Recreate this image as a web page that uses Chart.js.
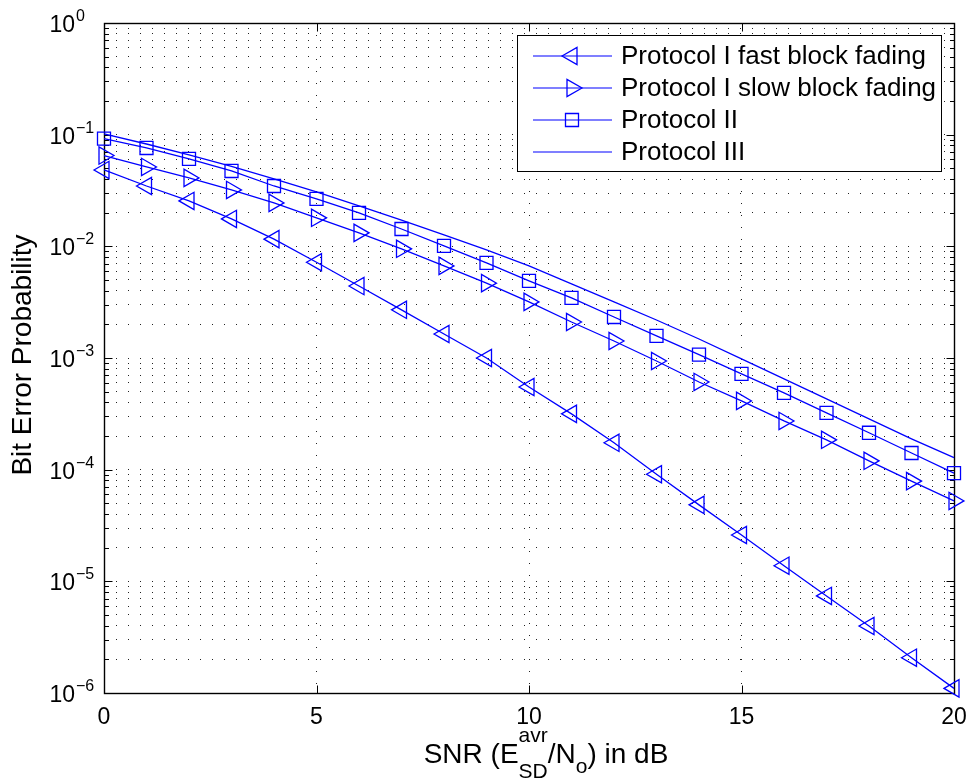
<!DOCTYPE html>
<html>
<head>
<meta charset="utf-8">
<script src="https://cdn.jsdelivr.net/npm/chart.js@4.4.0/dist/chart.umd.min.js"></script>
<style>
  html, body { margin: 0; padding: 0; background: #fff; }
  #wrap { width: 973px; height: 782px; }
</style>
</head>
<body>
<div id="wrap"><canvas id="berChart" width="973" height="782"></canvas></div>
<script>
// SNR in dB
const snr = [0, 1, 2, 3, 4, 5, 6, 7, 8, 9, 10, 11, 12, 13, 14, 15, 16, 17, 18, 19, 20];

// bit error probability
const fastFading = [0.0483, 0.0347, 0.0255, 0.0176, 0.0116, 0.0072, 0.00441, 0.0027, 0.00164, 0.001,
  0.00055, 0.000316, 0.000174, 9.1e-5, 4.84e-5, 2.6e-5, 1.38e-5, 7.4e-6, 3.98e-6, 2.07e-6, 1.1e-6];
const slowFading = [0.065, 0.0514, 0.041, 0.032, 0.0245, 0.018, 0.0132, 0.0095, 0.00668, 0.00468,
  0.00318, 0.0021, 0.00142, 0.00094, 0.00061, 0.000413, 0.000273, 0.000185, 0.00012, 7.9e-5, 5.25e-5];
const protocol2 = [0.092, 0.076, 0.0606, 0.0473, 0.0347, 0.0266, 0.0199, 0.0143, 0.0101, 0.0071,
  0.0049, 0.00345, 0.00233, 0.00158, 0.00107, 0.00072, 0.000487, 0.000323, 0.000214, 0.000141, 9.3e-5];
const protocol3 = [0.1015, 0.0825, 0.0658, 0.0519, 0.0401, 0.0307, 0.023, 0.0172, 0.01265, 0.00929,
  0.00668, 0.00461, 0.00318, 0.00219, 0.00148, 0.000982, 0.00065, 0.00043, 0.000285, 0.000189, 0.000128];

const seriesLabels = ['Protocol I fast block fading', 'Protocol I slow block fading', 'Protocol II', 'Protocol III'];

// tick labels
const xTicks = [0, 5, 10, 15, 20];
const yExponents = [0, -1, -2, -3, -4, -5, -6];

const BLUE = '#0000ff';
const FONT = '"Liberation Sans", Arial, Helvetica, sans-serif';

function pts(ys) {
  return snr.map((x, i) => ({ x: x, y: ys[i] }));
}

// major + minor log ticks (1..9 x 10^e)
function logTicks() {
  const t = [];
  for (let e = -6; e < 0; e++) {
    for (let m = 1; m < 10; m++) t.push({ value: m * Math.pow(10, e), major: m === 1 });
  }
  t.push({ value: 1, major: true });
  return t;
}

// draws the box, inward ticks, superscript labels, axis titles and legend, MATLAB style
const matlabAxes = {
  id: 'matlabAxes',
  beforeDatasetsDraw(chart) {
    const { ctx, chartArea: a, scales: { x, y } } = chart;
    const L = Math.round(a.left) + 0.5, R = Math.round(a.right) + 0.5;
    const T = Math.round(a.top) + 0.5, B = Math.round(a.bottom) + 0.5;
    ctx.save();
    ctx.strokeStyle = '#000';
    ctx.lineWidth = 1;
    ctx.beginPath();
    y.ticks.forEach(t => {
      const py = Math.round(y.getPixelForValue(t.value)) + 0.5;
      const len = t.major ? 8 : 4.5;
      ctx.moveTo(L, py); ctx.lineTo(L + len, py);
      ctx.moveTo(R, py); ctx.lineTo(R - len, py);
    });
    xTicks.forEach(v => {
      const px = Math.round(x.getPixelForValue(v)) + 0.5;
      ctx.moveTo(px, B); ctx.lineTo(px, B - 8);
      ctx.moveTo(px, T); ctx.lineTo(px, T + 8);
    });
    ctx.stroke();
    ctx.lineWidth = 1.4;
    ctx.strokeRect(L, T, R - L, B - T);
    ctx.restore();
  },
  afterDraw(chart) {
    const { ctx, chartArea: a, scales: { x, y } } = chart;
    ctx.save();
    ctx.fillStyle = '#000';
    ctx.textBaseline = 'alphabetic';

    // y tick labels 10^e
    yExponents.forEach(e => {
      const py = y.getPixelForValue(Math.pow(10, e));
      ctx.font = '23px ' + FONT;
      ctx.textAlign = 'right';
      ctx.fillText('10', 75, py + 9);
      ctx.font = '16px ' + FONT;
      ctx.textAlign = 'left';
      ctx.fillText(e === 0 ? '0' : '\u2212' + Math.abs(e), 76, py - 2);
    });

    // x tick labels
    ctx.font = '23px ' + FONT;
    ctx.textAlign = 'center';
    xTicks.forEach(v => {
      ctx.fillText(String(v), x.getPixelForValue(v), 724);
    });

    // x title: SNR (E^avr_SD/N_o) in dB
    const parts = [
      { t: 'SNR (E', f: 28, dy: 0 },
      { t: 'avr', f: 21, dy: -21, stack: 'SD' },
      { t: '/N', f: 28, dy: 0 },
      { t: 'o', f: 21, dy: 10 },
      { t: ') in dB', f: 28, dy: 0 }
    ];
    let total = 0;
    parts.forEach(p => {
      ctx.font = p.f + 'px ' + FONT;
      let w = ctx.measureText(p.t).width;
      if (p.stack) w = Math.max(w, ctx.measureText(p.stack).width);
      p.w = w;
      total += w;
    });
    let cx = 546 - total / 2;
    const base = 763;
    ctx.textAlign = 'left';
    parts.forEach(p => {
      ctx.font = p.f + 'px ' + FONT;
      ctx.fillText(p.t, cx, base + p.dy);
      if (p.stack) ctx.fillText(p.stack, cx, base + 15);
      cx += p.w;
    });

    // y title
    ctx.save();
    ctx.translate(31, 355);
    ctx.rotate(-Math.PI / 2);
    ctx.font = '28px ' + FONT;
    ctx.textAlign = 'center';
    ctx.fillText('Bit Error Probability', 0, 0);
    ctx.restore();

    // legend
    const lx = 517.5, ly = 35.5, lw = 424, lh = 136;
    ctx.fillStyle = '#fff';
    ctx.fillRect(lx, ly, lw, lh);
    ctx.strokeStyle = '#000';
    ctx.lineWidth = 1;
    ctx.strokeRect(lx, ly, lw, lh);
    chart.data.datasets.forEach((ds, i) => {
      const ry = 56 + i * 32;
      ctx.strokeStyle = BLUE;
      ctx.lineWidth = 1.2;
      ctx.beginPath();
      ctx.moveTo(533, ry); ctx.lineTo(612, ry);
      ctx.stroke();
      if (ds.pointRadius > 0) {
        ctx.fillStyle = 'rgba(0,0,0,0)';
        ctx.lineWidth = 1.3;
        Chart.helpers.drawPoint(ctx, {
          pointStyle: ds.pointStyle, radius: ds.pointRadius, rotation: ds.pointRotation,
          borderWidth: 1.3
        }, 572, ry);
      }
      ctx.fillStyle = '#000';
      ctx.font = '26px ' + FONT;
      ctx.textAlign = 'left';
      ctx.textBaseline = 'middle';
      ctx.fillText(ds.label, 621, ry + 1);
    });
    ctx.restore();
  }
};

const common = {
  borderColor: BLUE,
  borderWidth: 1.3,
  pointBorderColor: BLUE,
  pointBackgroundColor: 'rgba(0,0,0,0)',
  pointBorderWidth: 1.3,
  pointHoverRadius: 0,
  tension: 0,
  fill: false,
  clip: false
};

const ctx = document.getElementById('berChart').getContext('2d');
new Chart(ctx, {
  type: 'line',
  data: {
    datasets: [
      Object.assign({ label: seriesLabels[0], data: pts(fastFading), pointStyle: 'triangle', pointRotation: -90, pointRadius: 10 }, common),
      Object.assign({ label: seriesLabels[1], data: pts(slowFading), pointStyle: 'triangle', pointRotation: 90, pointRadius: 10 }, common),
      Object.assign({ label: seriesLabels[2], data: pts(protocol2), pointStyle: 'rect', pointRotation: 0, pointRadius: 9.2 }, common),
      Object.assign({ label: seriesLabels[3], data: pts(protocol3), pointStyle: 'circle', pointRotation: 0, pointRadius: 0 }, common)
    ]
  },
  options: {
    responsive: false,
    animation: false,
    events: [],
    layout: { padding: { left: 104, top: 23, right: 19, bottom: 89 } },
    plugins: { legend: { display: false }, tooltip: { enabled: false } },
    scales: {
      x: {
        type: 'linear',
        min: 0,
        max: 20,
        afterBuildTicks: s => { s.ticks = xTicks.map(v => ({ value: v })); },
        ticks: { display: false },
        grid: { color: '#222', lineWidth: 1, drawTicks: false },
        border: { display: false, dash: [1, 11] }
      },
      y: {
        type: 'logarithmic',
        min: 1e-6,
        max: 1,
        afterBuildTicks: s => { s.ticks = logTicks(); },
        ticks: { display: false },
        grid: { color: '#222', lineWidth: 1, drawTicks: false },
        border: { display: false, dash: [1, 11] }
      }
    }
  },
  plugins: [matlabAxes]
});
</script>
</body>
</html>
